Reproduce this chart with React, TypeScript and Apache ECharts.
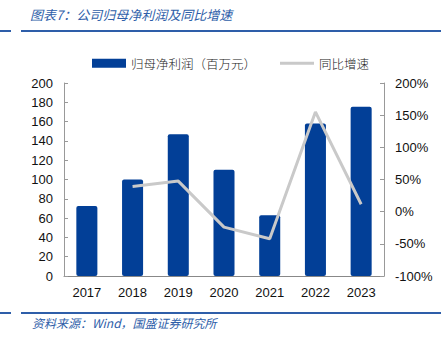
import React, { useEffect, useRef } from "react";
import * as echarts from "echarts";

const years = ["2017", "2018", "2019", "2020", "2021", "2022", "2023"];
const netProfit = [72.5, 100, 147, 110, 63, 158, 175.5];
const growth = [null, 0.39, 0.475, -0.24, -0.42, 1.55, 0.115];
const leftTicks = { min: 0, max: 200, interval: 20 };
const rightTicks = { min: -1, max: 2, interval: 0.5 };
const titleText = "图表7：公司归母净利润及同比增速";
const sourceText = "资料来源：Wind，国盛证券研究所";
const barName = "归母净利润（百万元）";
const lineName = "同比增速";

const FONT = "'Liberation Sans', 'Noto Sans CJK SC', sans-serif";
const CJK = "'Noto Sans CJK SC', sans-serif";
const BLUE = "#023F97";
const RULE = "#2E5EA9";
const LINE_ICON = "path://M0,0 L0.01,0 L0.01,0.01 Z M0,3 L34,3 L34,6 L0,6 Z M34,9 L33.99,9 L33.99,8.99 Z";

export default function App() {
  const ref = useRef<HTMLDivElement>(null);
  useEffect(() => {
    const chart = echarts.init(ref.current!, null, { renderer: "svg" });
    chart.setOption({
      animation: false,
      backgroundColor: "#ffffff",
      grid: { left: 64, right: 60, top: 83, bottom: 68, containLabel: false },
      legend: {
        left: 87,
        top: 52,
        itemWidth: 34,
        itemHeight: 9,
        itemGap: 24,
        textStyle: { fontFamily: CJK, fontSize: 12.5, color: "#222", fontWeight: 300 },
        data: [
          { name: barName, icon: "rect" },
          { name: lineName, icon: LINE_ICON, itemStyle: { color: "#C9C9C9" } },
        ],
      },
      xAxis: {
        type: "category",
        data: years,
        boundaryGap: true,
        axisLine: { lineStyle: { color: "#888", width: 1 } },
        axisTick: { inside: true, length: 4, alignWithLabel: false, lineStyle: { color: "#888" } },
        axisLabel: { fontFamily: FONT, fontSize: 13, color: "#111", margin: 10 },
      },
      yAxis: [
        {
          type: "value",
          ...leftTicks,
          axisLine: { show: true, lineStyle: { color: "#999" } },
          axisTick: { show: true, inside: true, length: 4, lineStyle: { color: "#999" } },
          splitLine: { show: false },
          axisLabel: { fontFamily: FONT, fontSize: 13, color: "#111", margin: 11 },
        },
        {
          type: "value",
          ...rightTicks,
          axisLine: { show: true, lineStyle: { color: "#999" } },
          axisTick: { show: true, inside: true, length: 4, lineStyle: { color: "#999" } },
          splitLine: { show: false },
          axisLabel: {
            fontFamily: FONT,
            fontSize: 13,
            color: "#111",
            margin: 11,
            formatter: (v: number) => `${Math.round(v * 100)}%`,
          },
        },
      ],
      series: [
        {
          name: barName,
          type: "bar",
          data: netProfit,
          barWidth: "46%",
          itemStyle: { color: BLUE, borderRadius: 2 },
        },
        {
          name: lineName,
          type: "line",
          yAxisIndex: 1,
          data: growth,
          symbol: "none",
          connectNulls: false,
          lineStyle: { color: "#C9C9C9", width: 3 },
          itemStyle: { color: "#C9C9C9" },
        },
      ],
      graphic: [
        {
          type: "text",
          left: 30,
          top: 8,
          style: {
            text: titleText,
            font: `italic 13px ${CJK}`,
            fill: RULE,
          },
        },
        { type: "line", shape: { x1: 0, y1: 31, x2: 11, y2: 31 }, style: { stroke: RULE, lineWidth: 2 } },
        { type: "line", shape: { x1: 21, y1: 31, x2: 441, y2: 31 }, style: { stroke: RULE, lineWidth: 2 } },
        { type: "line", shape: { x1: 0, y1: 313, x2: 11, y2: 313 }, style: { stroke: RULE, lineWidth: 2 } },
        { type: "line", shape: { x1: 21, y1: 313, x2: 441, y2: 313 }, style: { stroke: RULE, lineWidth: 2 } },
        {
          type: "text",
          left: 32,
          top: 316,
          style: {
            text: sourceText,
            font: `italic 12px ${CJK}`,
            fill: RULE,
          },
        },
      ],
    });
    return () => chart.dispose();
  }, []);
  return (
    <div
      ref={ref}
      style={{ position: "fixed", left: 0, top: 0, width: 444, height: 344 }}
    />
  );
}
